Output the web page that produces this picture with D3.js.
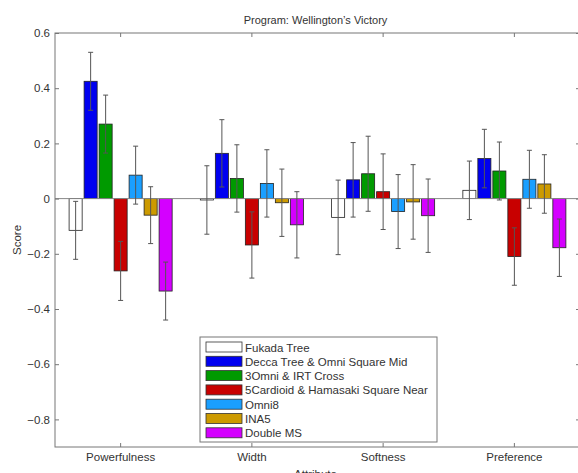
<!DOCTYPE html>
<html lang="en">
<head>
<meta charset="UTF-8">
<script src="https://d3js.org/d3.v7.min.js"></script>
<style>
  body { margin: 0; background: #fff; }
  text { font-family: "Liberation Sans", Arial, sans-serif; fill: #333; }
</style>
</head>
<body>
<div id="container"></div>
<script>
// Datos
var attributes = ["Powerfulness", "Width", "Softness", "Preference"];
var seriesNames = ["Fukada Tree", "Decca Tree & Omni Square Mid", "3Omni & IRT Cross",
  "5Cardioid & Hamasaki Square Near", "Omni8", "INA5", "Double MS"];
var seriesColors = ["#ffffff", "#0000f0", "#009a00", "#c80000", "#1a9fff", "#cc9a00", "#d400ff"];

var fukada = [-0.115, -0.005, -0.068, 0.03];
var decca = [0.425, 0.164, 0.068, 0.145];
var omni3 = [0.27, 0.073, 0.09, 0.1];
var cardioid5 = [-0.262, -0.168, 0.025, -0.21];
var omni8 = [0.085, 0.055, -0.047, 0.07];
var ina5 = [-0.06, -0.015, -0.012, 0.053];
var doubleMS = [-0.335, -0.095, -0.062, -0.178];

var errFukada = [0.105, 0.124, 0.135, 0.106];
var errDecca = [0.105, 0.122, 0.135, 0.106];
var errOmni3 = [0.105, 0.122, 0.136, 0.105];
var errCardioid5 = [0.107, 0.12, 0.137, 0.104];
var errOmni8 = [0.105, 0.122, 0.134, 0.105];
var errIna5 = [0.103, 0.122, 0.135, 0.106];
var errDoubleMS = [0.105, 0.12, 0.133, 0.104];

var yTicks = [-0.8, -0.6, -0.4, -0.2, 0, 0.2, 0.4, 0.6];

var seriesValues = [fukada, decca, omni3, cardioid5, omni8, ina5, doubleMS];
var seriesErrors = [errFukada, errDecca, errOmni3, errCardioid5, errOmni8, errIna5, errDoubleMS];

var W = 578, H = 473;
var plotLeft = 55, plotRight = 580, plotTop = 33, plotBottom = 447;

var svg = d3.select("#container").append("svg")
  .attr("width", W).attr("height", H);

var x0 = d3.scaleBand().domain(attributes).range([plotLeft, plotRight]);
var x1 = d3.scaleBand().domain(seriesNames)
  .range([x0.bandwidth() / 2 - 52.5, x0.bandwidth() / 2 + 52.5])
  .paddingInner(0.13).paddingOuter(0.065);
var y = d3.scaleLinear().domain([-0.9, 0.6]).range([plotBottom, plotTop]);

// tabla plana de barras
var bars = [];
seriesNames.forEach(function (s, i) {
  attributes.forEach(function (a, j) {
    bars.push({ series: s, attr: a, value: seriesValues[i][j], err: seriesErrors[i][j], color: seriesColors[i] });
  });
});

// barras
svg.append("g").selectAll("rect")
  .data(bars).enter().append("rect")
  .attr("x", d => x0(d.attr) + x1(d.series))
  .attr("width", x1.bandwidth())
  .attr("y", d => y(Math.max(0, d.value)))
  .attr("height", d => Math.abs(y(d.value) - y(0)))
  .attr("fill", d => d.color)
  .attr("stroke", "#222")
  .attr("stroke-width", 0.8);

// linea base
svg.append("line")
  .attr("x1", plotLeft).attr("x2", plotRight)
  .attr("y1", y(0)).attr("y2", y(0))
  .attr("stroke", "#888").attr("stroke-width", 1);

// barras de error
var eg = svg.append("g").attr("stroke", "#555").attr("stroke-width", 1);
bars.forEach(function (d) {
  var cx = x0(d.attr) + x1(d.series) + x1.bandwidth() / 2;
  eg.append("line").attr("x1", cx).attr("x2", cx)
    .attr("y1", y(d.value + d.err)).attr("y2", y(d.value - d.err));
  [d.value + d.err, d.value - d.err].forEach(function (v) {
    eg.append("line").attr("x1", cx - 2.5).attr("x2", cx + 2.5)
      .attr("y1", y(v)).attr("y2", y(v));
  });
});

// ejes
var fmt = function (d) { return d === 0 ? "0" : d3.format(".1f")(d); };
var yAxis = svg.append("g").attr("transform", "translate(" + plotLeft + ",0)")
  .call(d3.axisLeft(y).tickValues(yTicks).tickSize(-4).tickPadding(5).tickFormat(fmt));
var yAxisR = svg.append("g").attr("transform", "translate(" + plotRight + ",0)")
  .call(d3.axisRight(y).tickValues(yTicks).tickSize(-4).tickFormat(""));
var xAxis = svg.append("g").attr("transform", "translate(0," + plotBottom + ")")
  .call(d3.axisBottom(x0).tickSize(-4).tickPadding(6));
var xAxisT = svg.append("g").attr("transform", "translate(0," + plotTop + ")")
  .call(d3.axisTop(x0).tickSize(-4).tickFormat(""));

[yAxis, yAxisR, xAxis, xAxisT].forEach(function (g) {
  g.select(".domain").remove();
  g.selectAll(".tick line").attr("stroke", "#777");
  g.selectAll("text").attr("font-size", "11.5px").attr("fill", "#333")
    .attr("font-family", "'Liberation Sans', Arial, sans-serif");
});

svg.append("rect")
  .attr("x", plotLeft).attr("y", plotTop)
  .attr("width", plotRight - plotLeft).attr("height", plotBottom - plotTop)
  .attr("fill", "none").attr("stroke", "#777").attr("stroke-width", 1);

// titulo y etiquetas
svg.append("text").attr("x", (plotLeft + plotRight) / 2 - 2).attr("y", 24)
  .attr("text-anchor", "middle").attr("font-size", "11px")
  .text("Program: Wellington\u2019s Victory");
svg.append("text").attr("transform", "translate(21," + ((plotTop + plotBottom) / 2) + ") rotate(-90)")
  .attr("text-anchor", "middle").attr("font-size", "11.5px").text("Score");
svg.append("text").attr("x", (plotLeft + plotRight) / 2 - 2).attr("y", 478)
  .attr("text-anchor", "middle").attr("font-size", "11.5px").text("Attribute");

// leyenda
var lg = svg.append("g").attr("transform", "translate(200,337)");
lg.append("rect").attr("width", 237).attr("height", 105)
  .attr("fill", "#fff").attr("stroke", "#777");
seriesNames.forEach(function (s, i) {
  var row = lg.append("g").attr("transform", "translate(6," + (10 + i * 14.3) + ")");
  row.append("rect").attr("x", 0).attr("y", -5).attr("width", 36).attr("height", 10)
    .attr("fill", seriesColors[i]).attr("stroke", "#333").attr("stroke-width", 0.8);
  row.append("text").attr("x", 39).attr("y", 4.5).attr("font-size", "11.5px").text(s);
});
</script>
</body>
</html>
